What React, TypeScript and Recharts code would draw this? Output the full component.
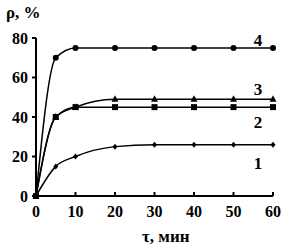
import React from 'react';
import { LineChart, Line, XAxis, YAxis } from 'recharts';

const times = [0, 5, 10, 20, 30, 40, 50, 60];
const series1 = [0, 15, 20, 25, 26, 26, 26, 26];
const series2 = [0, 40, 45, 45, 45, 45, 45, 45];
const series3 = [0, 40, 45, 49, 49, 49, 49, 49];
const series4 = [0, 70, 75, 75, 75, 75, 75, 75];
const xTicks = [0, 10, 20, 30, 40, 50, 60];
const yTicks = [0, 20, 40, 60, 80];
const curveNames = ['1', '2', '3', '4'];

const data = times.map((t, i) => ({
    t,
    s1: series1[i],
    s2: series2[i],
    s3: series3[i],
    s4: series4[i],
}));

const font = '"Liberation Serif", "Times New Roman", serif';

const Circle = (p: any) => <circle key={p.index} cx={p.cx} cy={p.cy} r={3} fill="#000" />;
const Square = (p: any) => <rect key={p.index} x={p.cx - 3} y={p.cy - 3} width={6} height={6} fill="#000" />;
const Tri = (p: any) => (
    <path key={p.index} d={`M${p.cx},${p.cy - 4} L${p.cx + 3.5},${p.cy + 2.5} L${p.cx - 3.5},${p.cy + 2.5} Z`} fill="#000" />
);
const Diamond = (p: any) => (
    <path key={p.index} d={`M${p.cx},${p.cy - 3} L${p.cx + 2.5},${p.cy} L${p.cx},${p.cy + 3} L${p.cx - 2.5},${p.cy} Z`} fill="#000" />
);

const curveLabel = (name: string, dy: number) => (p: any) => {
    if (p.index !== times.length - 1) return null;
    return (
        <text key={name} x={p.x - 15} y={p.y + dy} textAnchor="middle" fontFamily={font} fontWeight="bold" fontSize={17} fill="#000">
            {name}
        </text>
    );
};

const tickStyle = { fontFamily: font, fontWeight: 'bold' as const, fontSize: 16, fill: '#000' };

// x ticks point inward (up), labels below
const XTick = (p: any) => {
    const axisY = p.y - 10;
    return (
        <g>
            <line x1={p.x} y1={axisY} x2={p.x} y2={axisY - 4} stroke="#000" strokeWidth={2} />
            <text x={p.x} y={p.y} dy="0.71em" textAnchor="middle" {...tickStyle}>
                {p.payload.value}
            </text>
        </g>
    );
};

export default function App() {
    return (
        <div style={{ position: 'absolute', left: 0, top: 0, width: 294, height: 249, background: '#fff' }}>
            <LineChart width={294} height={249} data={data} margin={{ top: 38, right: 21, left: 0, bottom: 0 }}>
                <XAxis
                    dataKey="t"
                    type="number"
                    domain={[0, 60]}
                    ticks={xTicks}
                    height={53}
                    stroke="#000"
                    strokeWidth={2}
                    tickLine={false}
                    tickSize={0}
                    tickMargin={10}
                    tick={<XTick />}
                />
                <YAxis
                    type="number"
                    domain={[0, 80]}
                    ticks={yTicks}
                    width={36}
                    stroke="#000"
                    strokeWidth={2}
                    tickSize={4}
                    tickMargin={4}
                    tick={tickStyle}
                />
                <Line dataKey="s1" type="monotone" stroke="#000" strokeWidth={1.5} dot={Diamond} isAnimationActive={false} label={curveLabel(curveNames[0], 24)} />
                <Line dataKey="s2" type="monotone" stroke="#000" strokeWidth={1.5} dot={Square} isAnimationActive={false} label={curveLabel(curveNames[1], 21)} />
                <Line dataKey="s3" type="monotone" stroke="#000" strokeWidth={1.5} dot={Tri} isAnimationActive={false} label={curveLabel(curveNames[2], -4)} />
                <Line dataKey="s4" type="monotone" stroke="#000" strokeWidth={1.5} dot={Circle} isAnimationActive={false} label={curveLabel(curveNames[3], -2)} />
            </LineChart>
            <div style={{ position: 'absolute', left: 6, top: 3, fontFamily: font, fontWeight: 'bold', fontSize: 17, color: '#000' }}>ρ, %</div>
            <div style={{ position: 'absolute', left: 142, top: 227, fontFamily: font, fontWeight: 'bold', fontSize: 17, color: '#000' }}>τ, мин</div>
        </div>
    );
}
